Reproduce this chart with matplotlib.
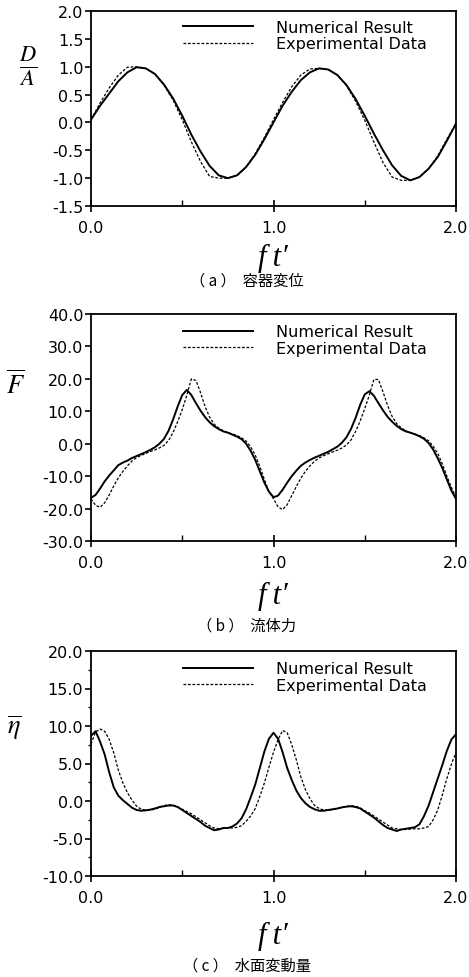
import matplotlib
matplotlib.use('Agg')
import matplotlib.pyplot as plt
from matplotlib.ticker import MultipleLocator, FormatStrFormatter

plt.rcParams['font.family'] = ['DejaVu Sans']
plt.rcParams['mathtext.fontset'] = 'stix'

# (a) container displacement, step 0.05
xa = [i * 0.05 for i in range(41)]
disp_num = [0.05, 0.30, 0.52, 0.74, 0.90, 0.99, 0.97, 0.87, 0.68, 0.43,
            0.12, -0.22, -0.52, -0.78, -0.95, -1.00, -0.95, -0.80, -0.58, -0.30,
            0.00, 0.30, 0.55, 0.76, 0.90, 0.97, 0.95, 0.85, 0.67, 0.42,
            0.12, -0.20, -0.50, -0.77, -0.96, -1.04, -0.98, -0.83, -0.62, -0.33,
            -0.02]
disp_exp = [0.05, 0.35, 0.62, 0.85, 0.99, 1.00, 0.97, 0.87, 0.67, 0.40,
            0.05, -0.35, -0.70, -0.97, -1.00, -1.00, -0.95, -0.80, -0.56, -0.27,
            0.05, 0.36, 0.64, 0.85, 0.96, 0.97, 0.95, 0.85, 0.66, 0.38,
            0.04, -0.35, -0.72, -0.98, -1.04, -1.04, -0.98, -0.83, -0.60, -0.30,
            -0.02]

# (b) fluid force, step 0.025
xb = [i * 0.025 for i in range(81)]
force_num = [-16.7, -15.8, -13.8, -11.6, -9.8, -8.2, -6.6, -5.8, -5.2, -4.4,
             -3.8, -3.2, -2.6, -1.9, -1.1, 0.0, 1.5, 4.0, 7.5, 11.5,
             15.0, 16.6, 15.0, 12.5, 10.2, 8.2, 6.6, 5.4, 4.5, 3.8,
             3.4, 2.8, 2.2, 1.4, 0.0, -2.2, -5.0, -8.5, -12.0, -14.8,
             -16.5, -16.0, -14.2, -12.0, -10.0, -8.3, -6.8, -5.8, -5.0, -4.3,
             -3.7, -3.1, -2.5, -1.7, -0.9, 0.3, 2.0, 4.6, 8.0, 12.0,
             15.2, 16.2, 14.8, 12.5, 10.3, 8.3, 6.8, 5.5, 4.5, 3.8,
             3.4, 2.9, 2.3, 1.5, 0.2, -1.8, -4.5, -7.5, -11.0, -14.5,
             -17.0]
force_exp = [-17.0, -19.0, -19.6, -18.2, -15.8, -13.0, -10.5, -8.5, -6.8, -5.3,
             -4.3, -3.6, -3.0, -2.4, -1.9, -1.3, -0.5, 1.0, 3.5, 6.8,
             10.5, 15.0, 20.0, 19.5, 15.8, 11.5, 8.2, 6.0, 4.8, 4.0,
             3.4, 3.0, 2.5, 1.8, 0.8, -1.0, -3.5, -7.0, -11.0, -14.8,
             -17.0, -19.5, -20.3, -18.8, -16.0, -13.2, -10.6, -8.5, -6.8, -5.4,
             -4.4, -3.7, -3.1, -2.5, -2.0, -1.3, -0.4, 1.2, 3.8, 7.0,
             10.8, 15.0, 19.8, 19.8, 16.0, 11.8, 8.4, 6.2, 4.9, 4.0,
             3.4, 3.0, 2.5, 1.8, 0.9, -0.8, -3.0, -6.2, -10.0, -13.5,
             -16.5]

# (c) free surface elevation, step 0.025
xc = [i * 0.025 for i in range(81)]
eta_num = [8.7, 9.3, 7.9, 6.2, 3.8, 1.8, 0.7, 0.1, -0.4, -0.9,
           -1.2, -1.3, -1.25, -1.15, -1.0, -0.8, -0.7, -0.6, -0.6, -0.8,
           -1.2, -1.6, -2.0, -2.4, -2.8, -3.3, -3.6, -3.9, -3.8, -3.6,
           -3.6, -3.4, -3.0, -2.3, -1.1, 0.5, 2.2, 4.4, 6.6, 8.3,
           9.1, 8.3, 6.5, 4.4, 2.8, 1.4, 0.4, -0.3, -0.8, -1.1,
           -1.3, -1.3, -1.2, -1.1, -1.0, -0.85, -0.75, -0.7, -0.8, -1.0,
           -1.4, -1.8, -2.2, -2.7, -3.2, -3.6, -3.8, -4.0, -3.8, -3.7,
           -3.6, -3.5, -3.1, -2.0, -0.6, 1.2, 3.0, 4.8, 6.7, 8.2,
           8.9]
eta_exp = [7.6, 9.2, 9.6, 9.3, 8.2, 6.4, 4.1, 2.4, 1.1, 0.1,
           -0.7, -1.1, -1.2, -1.2, -1.1, -0.85, -0.6, -0.5, -0.55, -0.8,
           -1.1, -1.4, -1.7, -2.1, -2.5, -2.9, -3.3, -3.6, -3.7, -3.65,
           -3.6, -3.6, -3.5, -3.3, -2.7, -2.0, -1.0, 0.6, 2.4, 4.5,
           6.5, 8.2, 9.4, 9.1, 7.5, 5.5, 3.2, 1.5, 0.3, -0.6,
           -1.0, -1.2, -1.2, -1.15, -1.0, -0.85, -0.7, -0.65, -0.7, -0.9,
           -1.3, -1.6, -2.0, -2.4, -2.8, -3.2, -3.6, -3.7, -3.8, -3.8,
           -3.75, -3.7, -3.7, -3.6, -3.4, -2.5, -1.2, 0.8, 3.0, 4.9,
           6.5]

W, H = 469, 978
fig = plt.figure(figsize=(W / 100, H / 100), dpi=100)


def px_axes(top, bottom, left=91, right=456):
    return fig.add_axes([left / W, 1 - bottom / H, (right - left) / W, (bottom - top) / H])


panels = [
    dict(top=12, bottom=207, x=xa, num=disp_num, exp=disp_exp, ylim=(-1.5, 2.0), step=0.5,
         minor=None, ylab=r'$\frac{D}{A}$', ylab_xy=(28, 66), ylab_size=23,
         xlab_y=258, cap_y=281, cap='（ a ）  容器変位'),
    dict(top=315, bottom=542, x=xb, num=force_num, exp=force_exp, ylim=(-30, 40), step=10,
         minor=None, ylab=r'$\overline{F}$', ylab_xy=(16, 385), ylab_size=19,
         xlab_y=596, cap_y=626, cap='（ b ）  流体力'),
    dict(top=652, bottom=877, x=xc, num=eta_num, exp=eta_exp, ylim=(-10, 20), step=5,
         minor=2.5, ylab=r'$\overline{\eta}$', ylab_xy=(14, 728), ylab_size=19,
         xlab_y=936, cap_y=966, cap='（ c ）  水面変動量'),
]

for p in panels:
    ax = px_axes(p['top'], p['bottom'])
    ax.plot(p['x'], p['num'], color='black', lw=1.4, label='Numerical Result')
    ax.plot(p['x'], p['exp'], color='black', lw=0.9, linestyle=(0, (2.2, 1.4)),
            label='Experimental Data')
    ax.set_xlim(0, 2)
    ax.set_ylim(*p['ylim'])
    ax.xaxis.set_major_locator(MultipleLocator(1.0))
    ax.xaxis.set_minor_locator(MultipleLocator(0.5))
    ax.xaxis.set_major_formatter(FormatStrFormatter('%.1f'))
    ax.yaxis.set_major_locator(MultipleLocator(p['step']))
    ax.yaxis.set_major_formatter(FormatStrFormatter('%.1f'))
    if p['minor']:
        ax.yaxis.set_minor_locator(MultipleLocator(p['minor']))
        ax.tick_params(axis='y', which='minor', direction='out', length=2.5, width=1)
    else:
        ax.yaxis.set_minor_locator(plt.NullLocator())
    ax.tick_params(axis='x', which='major', direction='inout', length=8, width=1.2,
                   pad=6, labelsize=11.5)
    ax.tick_params(axis='x', which='minor', direction='in', length=4, width=1)
    ax.tick_params(axis='y', which='major', direction='out', length=4, width=1.2,
                   pad=1.5, labelsize=11.5)
    for s in ax.spines.values():
        s.set_linewidth(1.3)

    ax.legend(loc='upper left', bbox_to_anchor=(0.252, 0.955), frameon=False,
              fontsize=11.5, handlelength=4.4, handletextpad=1.4,
              labelspacing=0.1, borderpad=0, borderaxespad=0)

    fig.text(p['ylab_xy'][0] / W, 1 - p['ylab_xy'][1] / H, p['ylab'],
             fontsize=p['ylab_size'], ha='center', va='center')
    fig.text(273 / W, 1 - p['xlab_y'] / H, 'f\u2009t\u2032', fontsize=22, style='italic',
             ha='center', va='center', family=['Liberation Serif', 'DejaVu Serif'])
    fig.text(247 / W, 1 - p['cap_y'] / H, p['cap'], fontsize=11, ha='center', va='center',
             family=['Noto Sans CJK JP', 'DejaVu Sans'])

fig.savefig('out.png', dpi=100)
